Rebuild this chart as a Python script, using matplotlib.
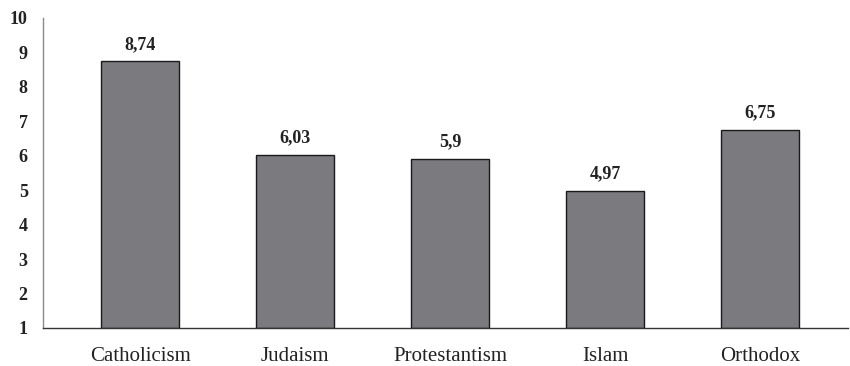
import matplotlib
matplotlib.use("Agg")
import matplotlib.pyplot as plt

categories = ["Catholicism", "Judaism", "Protestantism", "Islam", "Orthodox"]
values = [8.74, 6.03, 5.9, 4.97, 6.75]
value_labels = ["8,74", "6,03", "5,9", "4,97", "6,75"]
yticks = [1, 2, 3, 4, 5, 6, 7, 8, 9, 10]

plt.rcParams["font.family"] = ["Liberation Serif", "DejaVu Serif"]

fig = plt.figure(figsize=(8.5, 3.66), dpi=100)
ax = fig.add_axes([43 / 850, 38 / 366, (848 - 43) / 850, (328 - 18) / 366])

x = list(range(len(categories)))
base = 1
ax.bar(x, [v - base for v in values], bottom=base, width=0.5,
       color="#7b7b7f", edgecolor="#1a1a1a", linewidth=1.0)

for xi, v, lab in zip(x, values, value_labels):
    ax.text(xi, v + 0.25, lab, ha="center", va="bottom",
            fontsize=13, fontweight="bold", color="#222222")

ax.set_ylim(1, 10)
ax.set_xlim(-0.626, 4.568)
ax.set_yticks(yticks)
ax.set_yticklabels([str(t) for t in yticks], fontsize=13, fontweight="bold",
                   color="#222222")
ax.set_xticks(x)
ax.set_xticklabels(categories, fontsize=15, color="#222222")
ax.tick_params(axis="both", length=0)
ax.tick_params(axis="y", pad=11)
ax.tick_params(axis="x", pad=14)

for s in ["top", "right"]:
    ax.spines[s].set_visible(False)
ax.spines["left"].set_color("#8a8a8a")
ax.spines["left"].set_linewidth(1.0)
ax.spines["bottom"].set_color("#333333")
ax.spines["bottom"].set_linewidth(1.0)

fig.savefig("out.png", dpi=100)
